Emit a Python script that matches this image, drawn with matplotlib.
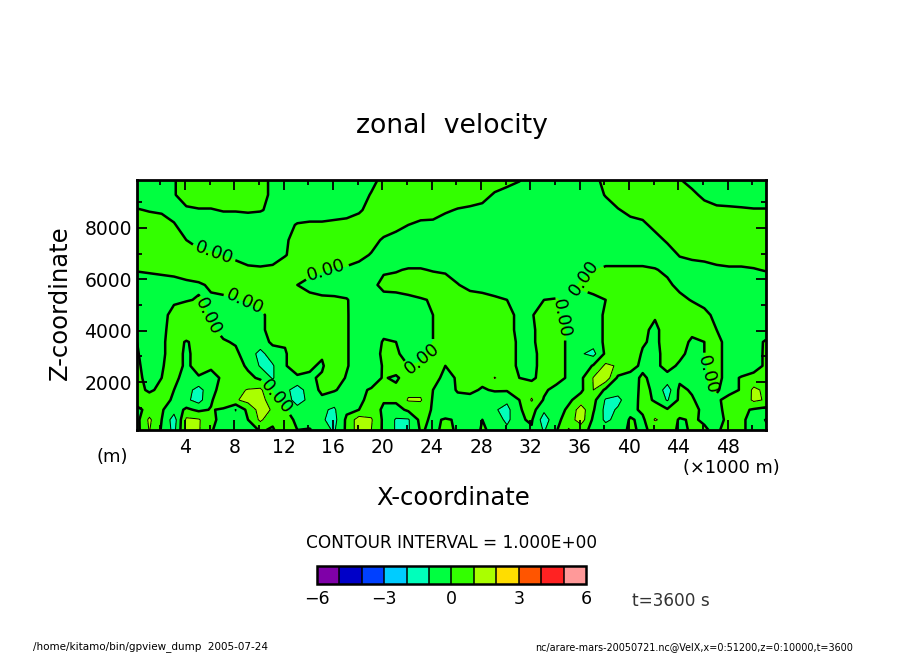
import numpy as np
import matplotlib
matplotlib.use("Agg")
import matplotlib.pyplot as plt
from matplotlib.ticker import MultipleLocator

# ==========================================
# DATA (zonal velocity)
# ==========================================

x_km = [0.1 + i for i in range(52)]
z_m = [9870, 9290, 8700, 8120, 7530, 6950, 6370, 5780, 5200, 4610,
       4030, 3560, 3100, 2630, 2160, 1690, 1300, 920, 530, 130]

u_z9870 = [-.9,-.9,-.8,-.1,.6,.9,.9,.9,.9,.9, .5,-.3,-.9,-.9,-.9,-.9,-.9,-.9,-.9,-.4, .4,.9,.9,.9,.9,.9,.9,.9,.9,.9, .8,.1,-.7,-.9,-.9,-.9,-.9,-.4,.4,.9, .9,.9,.9,.9,.1,-.6,-.9,-.9,-.9,-.9, -.9,-.9]
u_z9290 = [-.9,-.9,-.8,-.1,.6,.9,.9,.9,.9,.9, .5,-.3,-.9,-.9,-.9,-.9,-.9,-.9,-.6,.1, .9,.9,.9,.9,.9,.9,.9,.9,.6,-.2, -.9,-.9,-.9,-.9,-.9,-.9,-.9,-.7,.1,.8, .9,.9,.9,.9,.9,.4,-.4,-.9,-.9,-.9, -.9,-.9]
u_z8700 = [.1,-.1,-.2,-.5,-.2,-.1,-.1,.1,.1,.2, .1,-.3,-.9,-.8,-.7,-.7,-.6,-.5,-.2,.5, .9,.9,.9,.9,.9,.2,-.1,-.3,-.5,-.9, -.9,-.9,-.9,-.9,-.9,-.9,-.9,-.9,-.7,-.1, .4,.6,.9,.9,.9,.9,.7,.4,.3,.2, .1,.1]
u_z8120 = [.9,.8,.6,.1,-.6,-.9,-.9,-.9,-.9,-.9, -.9,-.9,-.4,.1,.2,.2,.3,.4,.7,.9, .8,.4,0,-.4,-.5,-.7,-.9,-.9,-.9,-.9, -.9,-.9,-.9,-.9,-.9,-.9,-.9,-.9,-.9,-.9, -.5,-.3,.4,.9,.9,.9,.9,.9,.9,.9, .9,.9]
u_z7530 = [.9,.9,.9,.7,0,-.5,-.7,-.8,-.9,-.9, -.9,-.9,-.2,.5,.9,.9,.9,.9,.9,.5, -.2,-.5,-.9,-.9,-.9,-.9,-.9,-.9,-.9,-.9, -.9,-.9,-.9,-.9,-.9,-.9,-.9,-.9,-.9,-.9, -.9,-.9,-.5,.2,.9,.9,.9,.9,.9,.9, .9,.9]
u_z6950 = [.9,.9,.9,.9,.9,.4,.2,-.1,-.4,-.7, -.7,-.6,-.1,.6,.9,.9,.9,.6,.4,-.1, -.8,-.9,-.9,-.9,-.9,-.9,-.9,-.9,-.9,-.9, -.9,-.9,-.9,-.9,-.9,-.9,-.9,-.9,-.9,-.9, -.9,-.9,-.9,-.7,.1,.3,.4,.6,.7,.7, .8,.9]
u_z6370 = [.1,.2,.3,.4,.6,.9,.9,.9,.7,.3, .2,.3,.9,.9,.4,.1,-.1,-.2,-.5,-.7, -.2,-.1,.1,.1,-.1,-.2,-.9,-.9,-.9,-.9, -.9,-.9,-.9,-.9,-.9,-.9,-.5,-.1,.3,.3, .3,.3,.1,-.3,-.8,-.6,-.5,-.3,-.2,-.2, -.1,.1]
u_z5780 = [-.8,-.7,-.6,-.5,-.3,-.2,.2,.6,.9,.9, .9,.9,.7,0,-.4,-.7,-.9,-.9,-.9,-.4, .4,.5,.6,.7,.8,.6,.1,-.6,-.9,-.9, -.9,-.9,-.9,-.9,-.9,-.5,.2,.5,.9,.9, .9,.9,.7,.3,-.4,-.9,-.9,-.9,-.9,-.9, -.9,-.9]
u_z5200 = [-.9,-.9,-.5,-.2,-.1,.1,-.2,-.3,-.2,.2, .6,.9,.7,.4,.4,.3,.3,.1,-.7,-.9, -.5,-.5,-.3,-.1,.1,.6,.9,.9,.8,.3, 0,-.4,-.2,0,.1,-.4,-.4,-.3,0,.7, .9,.9,.9,.7,.4,-.1,-.5,-.9,-.9,-.9, -.9,-.9]
u_z4610 = [-.9,-.9,-.4,.4,.9,.5,-.2,-.9,-.9,-.9, -.3,.5,.9,.9,.9,.9,.8,.1,-.6,-.9, -.9,-.9,-.9,-.7,0,.7,.9,.9,.9,.9, .4,-.3,-.1,.6,.2,-.5,-.9,-.6,.2,.8, .9,.5,.1,.8,.9,.9,.4,-.4,-.9,-.9, -.9,-.9]
u_z4030 = [-.9,-.9,-.3,.5,.9,.9,.2,-.3,-.9,-.9, -.3,.5,.9,.9,.9,.9,.8,.1,-.6,-.8, -.3,-.4,-.9,-.7,0,.7,.9,.9,.9,.9, .4,-.3,-.2,.5,.6,-.2,-.9,-.6,.2,.8, .9,.2,-.2,.4,.7,.3,.2,0,-.7,-.9, -.9,-.9]
u_z3560 = [0,-.7,-.2,.5,-.1,.4,.3,.1,-.1,-.8, -.5,.2,.1,.6,.9,.9,.8,.1,-.6,-.6, .1,0,-.7,-.7,0,.7,.9,.9,.9,.9, .5,-.2,-.2,.5,.5,-.2,-.9,-.6,.2,.8, .8,.1,-.2,.4,.5,-.2,0,.3,-.4,-.9, -.6,.2]
u_z3100 = [.1,-.6,-.2,.5,-.2,.4,.2,.1,.2,-.5, -1.3,-.5,-.1,.6,.5,.1,.7,.1,-.6,-.5, .2,.2,-.5,-.2,.4,.4,0,.7,.5,.2, .5,-.2,-.3,.4,.5,-.2,-.9,-1.3,.2,.8, .6,-.1,-.3,.4,.3,-.4,0,.3,-.4,-.8, -.5,.2]
u_z2630 = [.2,-.5,-.1,.5,-.2,.4,.1,.1,.5,-.2, -1.1,-1.1,-.1,.6,.1,-.1,.6,.1,-.6,-.6, .1,.7,0,.1,.7,0,.1,.7,.4,.3, .5,-.2,-.3,.4,.5,-.2,-.7,.1,1.2,.9, .5,-.3,-.3,.4,-.2,-.8,-.1,.3,-.4,-.8, -.5,.2]
u_z2160 = [.3,-.4,0,.2,-.3,-.1,-.2,.1,.6,.3, -.2,-1.1,-.1,-.2,-.1,.1,.6,-.1,-.7,-.5, .1,-.2,.6,.9,.4,-.3,.1,.7,.3,1.05, .5,0,-.2,.4,.5,-.2,-.2,1.05,1.6,-.2, -.5,.2,-.4,-.4,-.2,-.8,-.1,.3,-.4,.1, .4,.6]
u_z1690 = [.4,-.2,.3,0,-.6,-1.4,-.3,.4,.8,1.05, 1.2,-.1,-.7,-1.5,-.5,.2,.1,-.4,-.2,.1, .1,.3,.7,.7,0,-.5,.1,.2,-.1,.1, .1,.2,.6,.2,-.4,-.9,-.2,1.0,-.2,-.7, -.6,.3,-.2,-1.5,.2,-.1,-.1,.1,-.4,.1, 1.2,.8]
u_z1300 = [.6,.6,.5,-.2,-.8,-1.4,-.1,.6,.9,1.3, 1.5,.3,-.4,-1.5,-.7,-.2,-.7,-.7,-.2,.3, .1,.2,1.1,1.1,-.1,-.8,-.3,-.3,-.2,-.6, -.8,0,1.1,-.1,-.7,-.2,.5,.3,-1.1,-1.2, -.5,.3,-.1,-1.1,.2,.1,-.4,-.2,.4,.2, 1.2,.9]
u_z920 = [-.3,.4,.1,-.6,.2,-.2,.05,-.1,-1.05,.3, 1.4,.9,.1,-.6,-.9,-.9,-1.1,-.2,0,.6, -.2,-.4,.2,.5,-.1,-.7,-.8,-.9,-.9,-.9, -1.3,-.1,.4,-.8,-.5,.2,1.5,.1,-1.3,-.9, -.3,.2,.4,.1,.5,.4,-.3,-.4,.5,.2, -.1,-.3]
u_z530 = [-.3,1.2,0,-1.5,1.2,1.1,.3,-.4,-.7,0, 1.2,.2,.4,-.2,-.6,-.9,-1.3,.2,1.5,1.1, -.2,-1.1,-1.1,.3,-.2,.1,-.1,-.6,0,-.3, -1.3,-.1,.1,-1.5,-.3,.5,1.5,-.2,-1.2,-.7, .1,-.2,1.1,.6,-.1,.1,-.1,-.7,.5,.2, -.4,-1.1]
u_z130 = [-.3,1.05,-.1,-1.3,1.2,1.1,.1,-.5,-.9,-.5, .1,-.1,.6,0,.1,-.7,-1.1,.2,1.5,1.0, -.2,-1.1,-1.1,.1,-.2,.2,-.1,-.5,.1,-.2, -.7,0,-.1,-1.1,-.1,1.1,.4,-.3,-.5,-.5, .2,-.2,.3,.5,-.2,.1,.1,-.2,.5,.2, -.4,-.8]

levels = list(range(-6, 7))
band_colors = ["#7f00a8", "#0000c8", "#0040ff", "#00ccff", "#00ffbb", "#00ff40",
               "#33ff00", "#aaff00", "#ffdd00", "#ff5500", "#ff2222", "#ff9999"]

# where the 0.00 labels sit on the zero line (km, m)
zero_labels = [(6.26, 6945), (8.86, 5115), (5.86, 4531), (15.5, 6322), (23.46, 2856),
               (11.37, 1414), (36.35, 6050), (34.4, 4453), (46.25, 2271)]

u = np.array([u_z9870, u_z9290, u_z8700, u_z8120, u_z7530, u_z6950, u_z6370, u_z5780, u_z5200,
              u_z4610, u_z4030, u_z3560, u_z3100, u_z2630, u_z2160, u_z1690, u_z1300, u_z920,
              u_z530, u_z130])

# ==========================================
# FIGURE
# ==========================================

W, H = 904, 654
fig = plt.figure(figsize=(W / 100, H / 100), dpi=100)
ax = fig.add_axes([137 / W, 1 - 430 / H, 629 / W, 250 / H])

cf = ax.contourf(x_km, z_m, u, levels=levels, colors=band_colors, antialiased=False)
ax.contour(x_km, z_m, u, levels=[-2, -1, 1, 2], colors="k", linewidths=0.7, linestyles="solid")
cs0 = ax.contour(x_km, z_m, u, levels=[0], colors="k", linewidths=1.8)
ax.clabel(cs0, manual=zero_labels, fmt="%.2f", fontsize=13, inline_spacing=3)

ax.set_xlim(0.1, 51.1)
ax.set_ylim(130, 9870)
ax.xaxis.set_major_locator(MultipleLocator(4))
ax.xaxis.set_minor_locator(MultipleLocator(2))
ax.yaxis.set_major_locator(MultipleLocator(2000))
ax.yaxis.set_minor_locator(MultipleLocator(1000))
ax.tick_params(which="both", direction="in", top=True, right=True, width=1.3)
ax.tick_params(which="major", length=7.5, labelsize=13.5)
ax.tick_params(which="minor", length=3.6)
ax.tick_params(axis="x", which="major", pad=6)
ax.tick_params(axis="y", which="major", pad=3.5)
for s in ax.spines.values():
    s.set_linewidth(2)

ax.set_xlabel("X-coordinate", fontsize=17.5)
ax.xaxis.set_label_coords(0.502, -0.225)
ax.set_ylabel("Z-coordinate", fontsize=17.5)
ax.yaxis.set_label_coords(-0.103, 0.51)

def put(px, py, s, **kw):
    # text placed by figure pixels, y counted from the top
    kw.setdefault("ha", "center")
    kw.setdefault("va", "center")
    fig.text(px / W, 1 - py / H, s, **kw)

put(452, 126, "zonal  velocity", fontsize=19.2)
put(112, 457, "(m)", fontsize=13)
put(731, 468, "(×1000 m)", fontsize=12.8)
put(452, 543, "CONTOUR INTERVAL = 1.000E+00", fontsize=12.2)
put(671, 601, "t=3600 s", fontsize=12.2, color="#333333")
put(33, 647, "/home/kitamo/bin/gpview_dump  2005-07-24", ha="left", fontsize=7.5)
put(853, 647, "nc/arare-mars-20050721.nc@VelX,x=0:51200,z=0:10000,t=3600", ha="right", fontsize=6.9)

# ==========================================
# COLOUR BAR
# ==========================================

cax = fig.add_axes([317 / W, 1 - 584 / H, 269 / W, 18 / H])
cb = fig.colorbar(cf, cax=cax, orientation="horizontal", ticks=[-6, -3, 0, 3, 6], drawedges=True)
cb.outline.set_linewidth(1.8)
cb.dividers.set_color("k")
cb.dividers.set_linewidth(1.1)
cax.tick_params(length=0, labelsize=12.5, pad=4)

fig.savefig("out.png", dpi=100)
